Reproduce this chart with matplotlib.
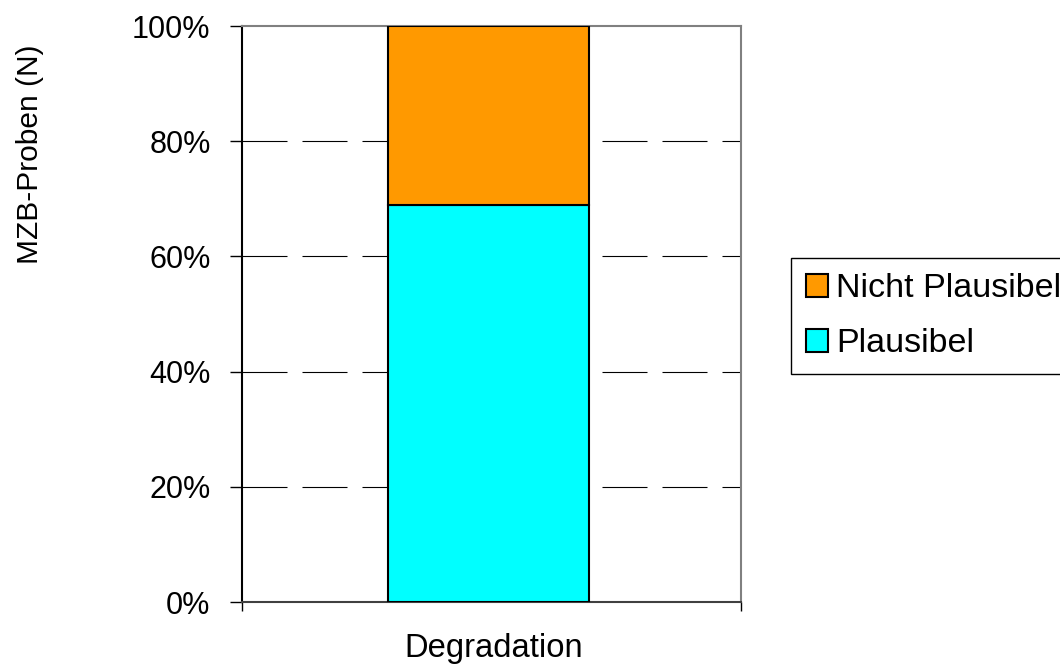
import matplotlib
matplotlib.use("Agg")
import matplotlib.pyplot as plt
from matplotlib.ticker import FuncFormatter
from matplotlib.transforms import ScaledTranslation

categories = ["Degradation"]
series_names = ["Plausibel", "Nicht Plausibel"]
plausibel = [69]
nicht_plausibel = [31]
yticks = [0, 20, 40, 60, 80, 100]

plt.rcParams['font.family'] = ['Liberation Sans', 'DejaVu Sans']
plt.rcParams['lines.scale_dashes'] = False

W, H = 1060, 669
fig = plt.figure(figsize=(W / 100, H / 100), dpi=100)
ax = fig.add_axes([242 / W, 1 - 602 / H, (741 - 242) / W, (602 - 26) / H])

x = list(range(len(categories)))
b1 = ax.bar(x, plausibel, width=0.403, color="#00FFFF", edgecolor="black", linewidth=1.5,
            zorder=3, label=series_names[0])
b2 = ax.bar(x, nicht_plausibel, bottom=plausibel, width=0.403, color="#FF9900",
            edgecolor="black", linewidth=1.5, zorder=3, label=series_names[1])

xl = (-0.494, 0.506)
ax.set_xlim(*xl)
ax.set_ylim(0, 100)
ax.set_yticks(yticks)
ax.yaxis.set_major_formatter(FuncFormatter(lambda v, p: f"{int(v)}%"))
for yv in yticks[1:-1]:
    ax.axhline(yv, color="black", linewidth=0.8, dashes=(32.4, 10.8), zorder=1)

ax.set_xticks(x)
ax.set_xticklabels(categories)
ax.set_xticks(list(xl), minor=True)
ax.tick_params(axis="x", which="major", length=0, pad=22, labelsize=23.6)
ax.tick_params(axis="x", which="minor", length=6.5, width=1, color="black", direction="out")
ax.tick_params(axis="y", which="major", length=8.6, width=1, color="black", pad=14, labelsize=22)
offset = ScaledTranslation(5 / 100, 0, fig.dpi_scale_trans)
for lbl in ax.get_xticklabels():
    lbl.set_transform(lbl.get_transform() + offset)

ax.spines["left"].set_color("black")
ax.spines["bottom"].set_color("#404040")
ax.spines["top"].set_color("#808080")
ax.spines["right"].set_color("#808080")
for s in ax.spines.values():
    s.set_linewidth(1.5)

fig.text(30 / W, 1 - 154 / H, "MZB-Proben (N)", rotation=90, ha="center", va="center",
         fontsize=21.5)

leg = fig.legend(handles=[b2, b1], labels=[series_names[1], series_names[0]],
                 loc="upper left", bbox_to_anchor=(791 / W, 1 - 258 / H),
                 bbox_transform=fig.transFigure, borderaxespad=0,
                 fontsize=24.5, handlelength=0.65, handleheight=0.65, handletextpad=0.22,
                 borderpad=0.45, labelspacing=0.7, fancybox=False, shadow=False,
                 frameon=True, edgecolor="black", framealpha=1)
leg.get_frame().set_linewidth(1)

fig.savefig("out.png", dpi=100)
